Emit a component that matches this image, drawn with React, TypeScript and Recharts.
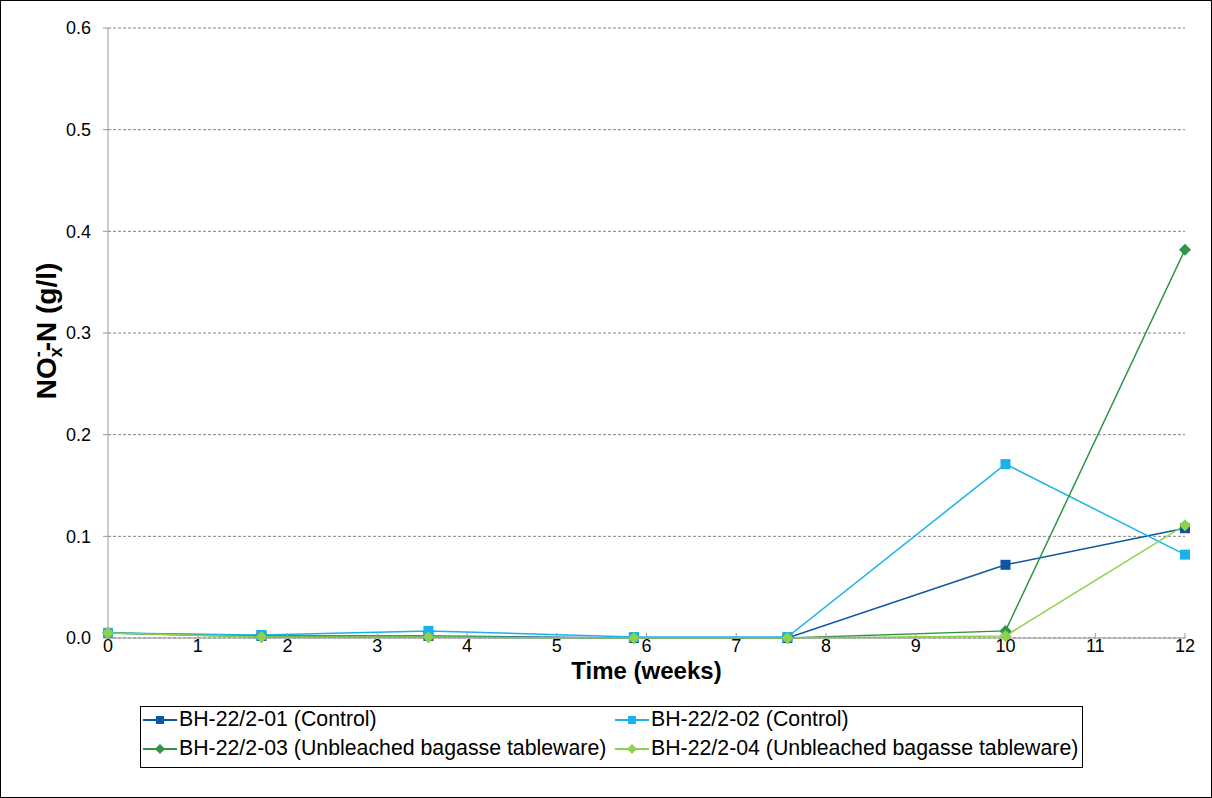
import { LineChart, Line, XAxis, YAxis, CartesianGrid, Legend } from 'recharts';

const weeks = [0, 1.71, 3.57, 5.86, 7.57, 10, 12];
const control01 = [0.005, 0.002, 0.002, 0.0, 0.0, 0.072, 0.108];
const control02 = [0.005, 0.003, 0.007, 0.001, 0.001, 0.171, 0.082];
const bagasse03 = [0.005, 0.001, 0.001, 0.0, 0.0, 0.007, 0.382];
const bagasse04 = [0.005, 0.001, 0.001, 0.0, 0.0, 0.002, 0.111];
const xTicks = [0, 1, 2, 3, 4, 5, 6, 7, 8, 9, 10, 11, 12];
const yTicks = [0, 0.1, 0.2, 0.3, 0.4, 0.5, 0.6];

const series = [
  { key: 'c01', name: 'BH-22/2-01 (Control)', color: '#0c56a4', shape: 'square', values: control01 },
  { key: 'c02', name: 'BH-22/2-02 (Control)', color: '#19b2ec', shape: 'square', values: control02 },
  { key: 'b03', name: 'BH-22/2-03 (Unbleached bagasse tableware)', color: '#2e9547', shape: 'diamond', values: bagasse03 },
  { key: 'b04', name: 'BH-22/2-04 (Unbleached bagasse tableware)', color: '#8fd14f', shape: 'diamond', values: bagasse04 },
];

const data = weeks.map((w, i) => {
  const row: Record<string, number> = { week: w };
  series.forEach(s => { row[s.key] = s.values[i]; });
  return row;
});

const FONT = '"Liberation Sans", Arial, sans-serif';

function Marker({ cx, cy, color, shape }: any) {
  if (cx == null || cy == null) return null;
  if (shape === 'square') {
    return <rect x={cx - 5} y={cy - 5} width={10} height={10} fill={color} />;
  }
  return <path d={`M${cx},${cy - 6}L${cx + 6},${cy}L${cx},${cy + 6}L${cx - 6},${cy}Z`} fill={color} />;
}

function YLabel() {
  return (
    <text
      transform="translate(55,330) rotate(-90)"
      textAnchor="middle"
      fontFamily={FONT}
      fontWeight="bold"
      fontSize={28}
      fill="#000"
    >
      <tspan>NO</tspan>
      <tspan fontSize={18} dy={6}>x</tspan>
      <tspan fontSize={18} dx={-10} dy={-18}>-</tspan>
      <tspan dy={12}>-N (g/l)</tspan>
    </text>
  );
}

function LegendBox() {
  return (
    <div
      style={{
        width: 943,
        height: 62,
        border: '1px solid #000',
        boxSizing: 'border-box',
        display: 'grid',
        gridTemplateColumns: '472px 1fr',
        gridTemplateRows: '25px 33px',
        alignItems: 'center',
        fontFamily: FONT,
        fontSize: 21.3,
        color: '#000',
        paddingLeft: 2,
      }}
    >
      {series.map(s => (
        <div key={s.key} style={{ display: 'flex', alignItems: 'center', whiteSpace: 'nowrap' }}>
          <svg width={34} height={12} style={{ marginRight: 2 }}>
            <line x1={0} y1={6} x2={34} y2={6} stroke={s.color} strokeWidth={2} />
            {s.shape === 'square' ? (
              <rect x={13} y={2} width={8} height={8} fill={s.color} />
            ) : (
              <path d="M17,1L22,6L17,11L12,6Z" fill={s.color} />
            )}
          </svg>
          <span>{s.name}</span>
        </div>
      ))}
    </div>
  );
}

export default function App() {
  return (
    <div
      style={{
        position: 'absolute',
        left: 0,
        top: 0,
        width: 1212,
        height: 798,
        border: '1px solid #000',
        boxSizing: 'border-box',
        background: '#fff',
      }}
    >
      <LineChart
        width={1210}
        height={796}
        data={data}
        margin={{ top: 27, right: 26, left: 0, bottom: 29 }}
      >
        <CartesianGrid horizontal vertical={false} stroke="#808080" strokeDasharray="3 2" />
        <XAxis
          dataKey="week"
          type="number"
          domain={[0, 12]}
          ticks={xTicks}
          interval={0}
          height={68}
          stroke="#9a9a9a"
          tickSize={-5}
          tickMargin={6}
          tick={{ fontSize: 18, fontFamily: FONT, fill: '#000' }}
          label={{
            value: 'Time (weeks)',
            position: 'insideTop',
            offset: 24,
            style: { fontSize: 24, fontWeight: 'bold', fontFamily: FONT, fill: '#000' },
          }}
        />
        <YAxis
          type="number"
          domain={[0, 0.6]}
          ticks={yTicks}
          interval={0}
          width={107}
          stroke="#9a9a9a"
          tickSize={5}
          tickMargin={12}
          tickFormatter={(v: number) => v.toFixed(1)}
          tick={{ fontSize: 18, fontFamily: FONT, fill: '#000' }}
          label={<YLabel />}
        />
        <Legend
          verticalAlign="bottom"
          height={62}
          content={() => <LegendBox />}
          wrapperStyle={{ left: 139, width: 943 }}
        />
        {series.map(s => (
          <Line
            key={s.key}
            dataKey={s.key}
            name={s.name}
            stroke={s.color}
            strokeWidth={1.5}
            isAnimationActive={false}
            dot={(p: any) => <Marker key={`${s.key}-${p.index}`} cx={p.cx} cy={p.cy} color={s.color} shape={s.shape} />}
            activeDot={false}
          />
        ))}
      </LineChart>
    </div>
  );
}
